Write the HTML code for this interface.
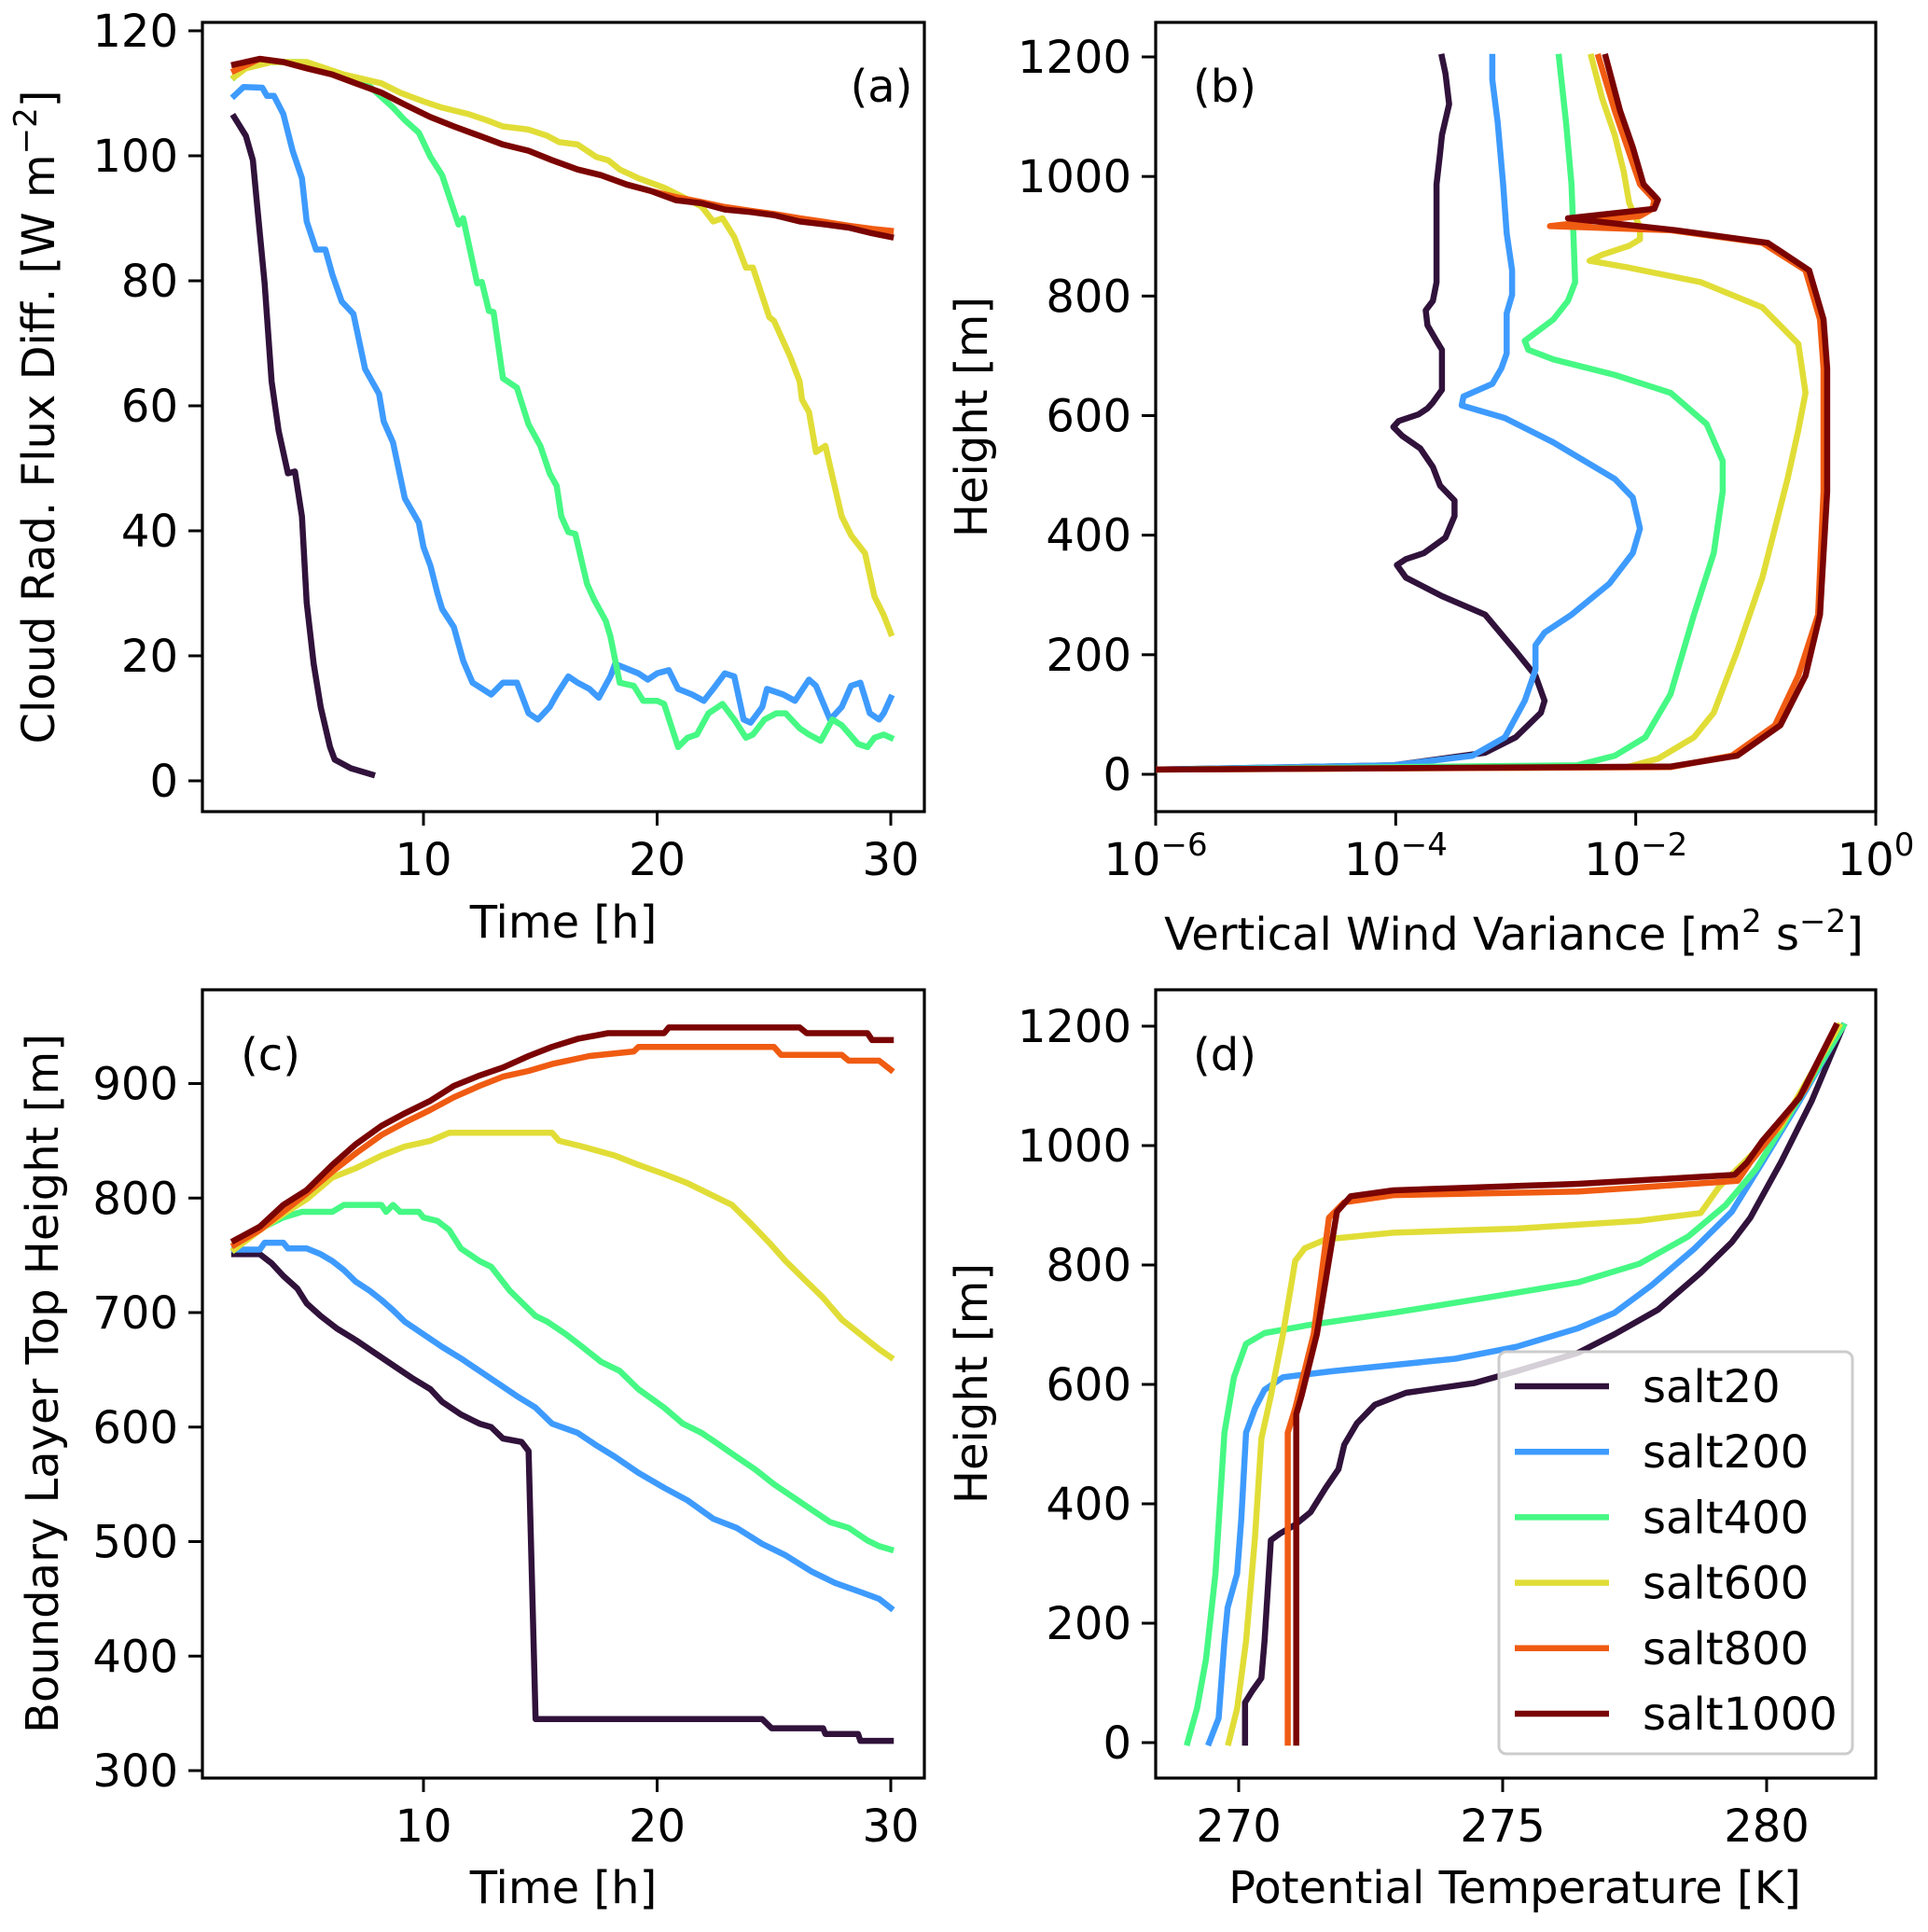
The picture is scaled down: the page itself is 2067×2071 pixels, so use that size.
<!DOCTYPE html>
<html><head><meta charset="utf-8"><style>
html,body{margin:0;padding:0;background:#fff}
svg{display:block}
text{font-family:"DejaVu Sans","Liberation Sans",sans-serif;fill:#000}
</style></head><body>
<svg id="fig" width="2067" height="2071" viewBox="0 0 2067 2071" xmlns="http://www.w3.org/2000/svg"></svg>
<script>
// ---------- shared ----------
const seriesNames = ["salt20","salt200","salt400","salt600","salt800","salt1000"];
const seriesColors = ["#30123b","#3e9bfe","#46f884","#e1dd37","#f05b12","#7a0403"];

// ---------- panel (a) data: time [h], flux diff ----------
const aT20 = [1.9,2.4,2.7,2.9,3.2,3.5,3.8,4.2,4.5,4.8,5.0,5.3,5.6,6.0,6.2,6.9,7.8];
const aV20 = [106.2,103.2,99.3,91.4,79.6,63.9,56,49.2,49.5,42.3,28.5,18.7,11.8,5.4,3.4,2,1];
const aT200 = [1.9,2.3,3.1,3.3,3.6,4.0,4.4,4.8,5.0,5.4,5.8,6.1,6.5,7.0,7.5,8.1,8.3,8.7,9.2,9.8,10.0,10.3,10.6,10.8,11.3,11.7,12.1,12.9,13.4,14.0,14.5,14.9,15.4,15.7,16.2,16.6,17.1,17.5,18.0,18.2,19.2,19.6,20.0,20.5,20.9,21.5,22.0,22.4,22.9,23.3,23.7,24.0,24.5,24.7,25.4,25.9,26.5,26.8,27.4,27.9,28.3,28.7,29.1,29.5,29.7,30.0];
const aV200 = [109.6,111,110.9,109.6,109.6,106.7,100.8,96.4,89.5,85,85,81,76.7,74.7,65.9,61.9,57.5,54.1,45.2,41.3,37.4,34.4,30,27.5,24.6,19.2,15.7,13.8,15.7,15.7,10.8,9.8,11.8,13.8,16.7,15.7,14.7,13.3,16.7,18.7,17.2,16.2,17.2,17.7,14.7,13.8,12.8,14.7,17.2,16.7,9.8,9.3,11.8,14.7,13.8,12.8,16.2,15.2,9.8,11.8,15.2,15.7,10.8,9.8,10.8,13.3];
const aT400 = [1.9,2.4,3.2,4.8,6.6,7.7,8.7,9.2,9.8,10.3,10.8,11.5,11.7,12.3,12.5,12.8,13.0,13.4,14.0,14.5,15.0,15.4,15.7,15.9,16.2,16.5,17.0,17.3,17.8,18.0,18.4,19.0,19.4,20.0,20.3,20.9,21.3,21.7,22.2,22.8,23.3,23.8,24.1,24.6,25.1,25.5,26.1,26.5,27.0,27.5,27.9,28.6,29.0,29.3,29.7,30.0];
const aV400 = [112.6,114.6,115,115,112.6,111.1,107.7,105.7,103.7,99.8,96.9,89,90,79.6,79.8,75.2,75,64.4,62.9,57,53.6,49.2,47.2,42.3,39.8,39.5,31.5,29,25.6,23.1,15.7,15.2,12.8,12.8,12.3,5.4,6.9,7.4,10.8,12.3,9.8,6.9,7.4,9.8,10.8,10.8,8.4,7.4,6.4,9.8,8.9,5.9,5.4,6.9,7.4,6.9];
const aT600 = [1.9,2.4,3.5,5.0,6.6,8.2,9.0,10.0,10.8,11.9,12.7,13.4,14.5,15.3,15.8,16.6,17.4,17.9,18.4,19.2,20.3,21.1,21.9,22.4,22.8,23.3,23.8,24.1,24.8,25.0,25.7,26.1,26.2,26.5,26.8,27.2,27.5,27.9,28.3,28.9,29.3,29.7,30.0];
const aV600 = [112.6,114,115,115,113,111.6,110.1,108.7,107.7,106.7,105.7,104.7,104.2,103.2,102.2,101.8,99.8,99.3,97.8,96.4,94.9,93.4,91.9,89.5,90,87,82.1,82.1,74.2,73.6,67.8,63.9,61,59,52.6,53.6,48.7,42.3,39.3,36.4,29.5,26.5,23.6];
const aT800 = [1.9,3.0,4.0,5.0,6.1,7.1,8.2,9.2,10.3,11.3,12.4,13.4,14.5,15.5,16.6,17.6,18.7,19.7,20.8,21.9,22.9,24.0,25.0,26.1,27.2,28.2,29.2,30.0];
const aV800 = [113.6,115.5,115,114,113,111.6,110.1,108.2,106.2,104.7,103.2,101.8,100.8,99.3,97.8,96.9,95.4,94.4,93.4,92.6,91.8,91.2,90.7,90,89.4,88.8,88.3,88];
const aT1000 = [1.9,3.0,4.0,5.0,6.1,7.1,8.2,9.2,10.3,11.3,12.4,13.4,14.5,15.5,16.6,17.6,18.7,19.7,20.8,21.9,22.9,24.0,25.0,26.1,27.2,28.2,29.2,30.0];
const aV1000 = [114.6,115.5,115,114,113,111.6,110.1,108.2,106.2,104.7,103.2,101.8,100.8,99.3,97.8,96.9,95.4,94.4,92.9,92.4,91.4,91,90.5,89.5,89,88.5,87.6,87];

// ---------- panel (b) data: log10 variance, height ----------
const bX20 = [-6,-4.02,-3.255,-3.0,-2.79,-2.76,-2.835,-3.0,-3.255,-3.615,-3.915,-3.99,-3.915,-3.765,-3.585,-3.51,-3.51,-3.63,-3.69,-3.795,-3.945,-4.02,-3.975,-3.81,-3.735,-3.69,-3.615,-3.615,-3.66,-3.735,-3.75,-3.69,-3.66,-3.66,-3.66,-3.63,-3.615,-3.555,-3.585,-3.615];
const bH20 = [8,15,36,62,103,123,165,206,267,298,329,350,360,370,396,432,458,483,514,545,566,581,591,602,612,622,643,710,725,751,776,792,823,884,987,1039,1069,1121,1172,1200];
const bX200 = [-6,-4.02,-3.36,-3.09,-2.925,-2.835,-2.835,-2.76,-2.535,-2.22,-2.025,-1.965,-2.025,-2.175,-2.685,-3.09,-3.45,-3.435,-3.195,-3.12,-3.075,-3.075,-3.03,-3.03,-3.075,-3.105,-3.15,-3.195,-3.195];
const bH200 = [8,15,31,62,123,175,216,237,267,319,370,411,463,494,555,596,617,632,653,679,704,771,802,843,905,987,1090,1162,1200];
const bX400 = [-6,-2.49,-2.175,-1.92,-1.71,-1.515,-1.35,-1.275,-1.275,-1.41,-1.71,-2.175,-2.685,-2.895,-2.925,-2.685,-2.565,-2.505,-2.52,-2.535,-2.58,-2.64];
const bH400 = [8,15,31,62,134,267,370,473,524,586,638,668,694,710,725,761,792,823,905,987,1090,1200];
const bX600 = [-6,-2.07,-1.815,-1.515,-1.35,-1.155,-0.945,-0.735,-0.645,-0.585,-0.645,-0.945,-1.455,-2.07,-2.385,-2.28,-2.055,-1.965,-1.965,-2.055,-2.1,-2.175,-2.28,-2.37];
const bH600 = [8,12,26,62,103,206,329,494,576,638,720,781,823,848,859,869,884,895,915,956,1008,1069,1131,1200];
const bX800 = [-6,-1.71,-1.2,-0.84,-0.645,-0.48,-0.435,-0.435,-0.465,-0.585,-0.945,-1.71,-2.715,-1.965,-1.86,-1.845,-1.965,-2.07,-2.175,-2.31];
const bH800 = [8,12,31,82,165,267,473,679,761,843,889,910,917,934,946,961,987,1049,1110,1200];
const bX1000 = [-6,-1.71,-1.155,-0.795,-0.585,-0.465,-0.405,-0.405,-0.435,-0.555,-0.9,-1.665,-2.565,-1.845,-1.815,-1.935,-2.025,-2.13,-2.25];
const bH1000 = [8,13,31,82,165,267,473,679,761,843,889,910,930,946,961,987,1049,1110,1200];

// ---------- panel (c) data: time, BL top height ----------
const cT20 = [1.9,3.0,3.5,4.0,4.6,5.0,5.6,6.3,7.1,7.9,8.7,9.5,10.3,10.8,11.6,12.4,12.9,13.4,14.2,14.5,14.8,24.5,24.9,27.1,27.2,28.6,28.7,30.0];
const cV20 = [751,751,743,732,721,708,697,686,676,665,654,643,633,622,611,603,600,590,587,579,345,345,337,337,332,332,326,326];
const cT200 = [1.9,3.0,3.2,4.0,4.2,5.0,5.6,6.1,6.6,7.1,7.7,8.2,8.7,9.2,10.0,10.8,11.6,12.4,13.2,14.0,14.8,15.5,16.6,17.4,18.2,19.2,20.3,21.3,22.4,23.4,24.5,25.5,26.6,27.6,28.7,29.5,30.0];
const cV200 = [755,755,761,761,756,756,751,745,737,727,719,711,702,692,681,670,660,649,638,627,617,603,595,584,574,560,547,536,520,512,498,488,474,464,456,450,442];
const cT400 = [1.9,2.4,3.2,4.0,4.8,6.1,6.6,8.2,8.4,8.7,9.0,9.8,10.0,10.6,11.1,11.6,12.4,12.9,13.7,14.8,15.3,16.1,16.8,17.6,18.4,19.2,20.3,21.1,21.9,22.7,23.4,24.2,25.0,25.8,26.6,27.4,28.2,29.0,29.5,30.0];
const cV400 = [755,764,775,783,788,788,794,794,788,794,788,788,783,780,772,756,745,740,719,697,692,681,670,657,649,633,617,603,595,584,574,563,550,539,528,517,512,501,496,493];
const cT600 = [1.9,3.0,4.0,5.0,6.1,7.1,8.2,9.2,10.3,11.1,15.5,15.8,16.8,18.2,19.2,20.3,21.3,22.4,23.2,24.0,24.8,25.5,26.3,27.1,27.9,28.7,29.5,30.0];
const cV600 = [755,772,786,799,818,826,837,845,850,857,857,850,845,837,829,821,813,802,794,778,761,745,729,713,694,681,668,661];
const cT800 = [1.9,3.0,4.0,5.0,6.1,7.1,8.2,9.2,10.3,11.3,12.4,13.4,14.5,15.5,17.1,19.0,19.2,25.0,25.3,27.9,28.2,29.5,30.0];
const cV800 = [759,772,788,804,823,839,855,866,877,888,898,906,911,917,924,928,932,932,925,925,920,920,912];
const cT1000 = [1.9,3.0,4.0,5.0,6.1,7.1,8.2,9.2,10.3,11.3,12.4,13.4,14.5,15.5,16.6,17.9,20.3,20.5,26.1,26.4,29.0,29.2,30.0];
const cV1000 = [763,775,794,807,829,847,863,874,885,898,907,914,924,932,939,944,944,949,949,944,944,938,938];

// ---------- panel (d) data: potential temperature, height ----------
const dT20 = [270.12,270.12,270.26,270.43,270.49,270.61,270.78,271.07,271.36,271.65,271.89,272.0,272.24,272.58,273.17,274.45,275.26,276.43,277.12,277.94,278.75,279.34,279.69,280.27,280.85,281.45];
const dH20 = [0,67,87,108,170,339,350,365,386,427,458,499,535,566,586,602,622,653,684,725,787,838,879,972,1074,1200];
const dT200 = [269.44,269.62,269.73,269.79,269.97,270.05,270.14,270.31,270.49,270.84,271.77,274.10,275.26,276.43,277.12,277.82,278.64,279.34,279.92,280.62,281.45];
const dH200 = [0,41,170,226,283,375,519,560,591,612,622,643,663,694,720,766,828,889,972,1074,1200];
const dT400 = [269.03,269.21,269.38,269.56,269.73,269.91,270.14,270.49,271.30,272.93,274.68,276.43,277.59,278.52,279.22,279.80,280.38,281.45];
const dH400 = [0,57,139,283,519,612,668,686,699,720,745,771,802,848,900,961,1044,1200];
const dT600 = [269.81,269.97,270.14,270.31,270.43,270.61,270.84,271.07,271.25,271.65,272.93,275.26,277.59,278.75,279.10,279.69,280.27,281.37];
const dH600 = [0,57,170,344,509,581,684,807,828,843,854,861,874,887,931,982,1033,1200];
const dT800 = [270.93,270.93,271.07,271.42,271.71,272.0,272.93,276.43,279.45,279.69,280.15,280.73,281.31];
const dH800 = [0,519,560,684,879,905,917,923,941,972,1023,1095,1200];
const dT1000 = [271.09,271.09,271.19,271.48,271.86,272.12,272.93,276.43,279.39,279.63,279.92,280.62,281.31];
const dH1000 = [0,550,581,684,889,915,925,936,951,972,1008,1080,1200];

// tick labels
const aYTicks = [0,20,40,60,80,100,120];
const timeTicks = [10,20,30];
const bYTicks = [0,200,400,600,800,1000,1200];
const bXTicks = [-6,-4,-2,0];
const cYTicks = [300,400,500,600,700,800,900];
const dXTicks = [270,275,280];

const NS = "http://www.w3.org/2000/svg";
const svg = document.getElementById("fig");
const FS = 48;
function mk(tag, attrs, parent){
  const e = document.createElementNS(NS, tag);
  for (const k in attrs) e.setAttribute(k, attrs[k]);
  (parent||svg).appendChild(e);
  return e;
}
function linScale(d0,d1,r0,r1){ return v => r0 + (v-d0)*(r1-r0)/(d1-d0); }

// axis functions
const axA = {x: linScale(10,30,454,955), y: linScale(0,120,837,33), box:[217,24,991,870]};
const axB = {x: linScale(-6,0,1239,2011), y: linScale(0,1200,830,61), box:[1239,24,2011,870]};
const axC = {x: linScale(10,30,454,955), y: linScale(300,900,1898,1161.5), box:[217,1061,991,1906]};
const axD = {x: linScale(270,280,1328,1894), y: linScale(0,1200,1868,1100), box:[1239,1061,2011,1906]};

function drawFrame(ax, name){
  const [x0,y0,x1,y1] = ax.box;
  const r = mk("rect",{x:x0,y:y0,width:x1-x0,height:y1-y0,fill:"none",stroke:"#000","stroke-width":3.2});
  
  
}
function drawSeries(ax, xs, ys, idx, panel){
  const g = mk("clipPath",{id:"clip"+panel+idx});
  const [x0,y0,x1,y1] = ax.box;
  mk("rect",{x:x0,y:y0,width:x1-x0,height:y1-y0},g);
  const pts = xs.map((v,i)=> ax.x(v).toFixed(1)+","+ax.y(ys[i]).toFixed(1)).join(" ");
  const p = mk("polyline",{points:pts,fill:"none",stroke:seriesColors[idx],"stroke-width":6.5,"stroke-linejoin":"round","stroke-linecap":"square","clip-path":"url(#clip"+panel+idx+")"});
  
  
}
function yTicks(ax, ticks, name){
  const x0 = ax.box[0];
  ticks.forEach(t=>{
    const y = ax.y(t);
    const l = mk("line",{x1:x0-15,x2:x0,y1:y,y2:y,stroke:"#000","stroke-width":3});
    
    
    const tx = mk("text",{x:x0-26,y:y+17,"text-anchor":"end","font-size":FS});
    tx.textContent = t;
    
    
  });
}
function xTicks(ax, ticks, name, fmt){
  const y1 = ax.box[3];
  ticks.forEach(t=>{
    const x = ax.x(t);
    const l = mk("line",{x1:x,x2:x,y1:y1,y2:y1+15,stroke:"#000","stroke-width":3});
    
    
    const tx = mk("text",{x:x,y:y1+68,"text-anchor":"middle","font-size":FS});
    if (fmt) { tx.innerHTML = fmt(t); } else { tx.textContent = t; }
    
    
  });
}
function label(x,y,txt,name,rot){
  const t = mk("text",{x:x,y:y,"text-anchor":"middle","font-size":FS});
  if (rot) t.setAttribute("transform","rotate(-90 "+x+" "+y+")");
  t.innerHTML = txt;
  
  
}

// panel a
drawFrame(axA,"panel-a");
yTicks(axA,aYTicks,"panel-a"); xTicks(axA,timeTicks,"panel-a");
[[aT20,aV20],[aT200,aV200],[aT400,aV400],[aT600,aV600],[aT800,aV800],[aT1000,aV1000]].forEach((s,i)=>drawSeries(axA,s[0],s[1],i,"a"));
label(604,1005,"Time [h]","panel-a-x-axis-title");
label(58,447,'Cloud Rad. Flux Diff. [W m<tspan dy="-19" font-size="34">−2</tspan><tspan dy="19">]</tspan>',"panel-a-y-axis-title",true);
label(945,109,"(a)","panel-a-label");

// panel b
drawFrame(axB,"panel-b");
yTicks(axB,bYTicks,"panel-b");
xTicks(axB,bXTicks,"panel-b", t=>'10<tspan dy="-21" font-size="34">'+(t<0?'−'+(-t):t)+'</tspan>');
[[bX20,bH20],[bX200,bH200],[bX400,bH400],[bX600,bH600],[bX800,bH800],[bX1000,bH1000]].forEach((s,i)=>drawSeries(axB,s[0],s[1],i,"b"));
label(1623,1018,'Vertical Wind Variance [m<tspan dy="-19" font-size="34">2</tspan><tspan dy="19"> s</tspan><tspan dy="-19" font-size="34">−2</tspan><tspan dy="19">]</tspan>',"panel-b-x-axis-title");
label(1058,447,"Height [m]","panel-b-y-axis-title",true);
label(1313,109,"(b)","panel-b-label");

// panel c
drawFrame(axC,"panel-c");
yTicks(axC,cYTicks,"panel-c"); xTicks(axC,timeTicks,"panel-c");
[[cT20,cV20],[cT200,cV200],[cT400,cV400],[cT600,cV600],[cT800,cV800],[cT1000,cV1000]].forEach((s,i)=>drawSeries(axC,s[0],s[1],i,"c"));
label(604,2040,"Time [h]","panel-c-x-axis-title");
label(62,1483,"Boundary Layer Top Height [m]","panel-c-y-axis-title",true);
label(290,1147,"(c)","panel-c-label");

// panel d
drawFrame(axD,"panel-d");
yTicks(axD,bYTicks,"panel-d"); xTicks(axD,dXTicks,"panel-d");
[[dT20,dH20],[dT200,dH200],[dT400,dH400],[dT600,dH600],[dT800,dH800],[dT1000,dH1000]].forEach((s,i)=>drawSeries(axD,s[0],s[1],i,"d"));
label(1624,2040,"Potential Temperature [K]","panel-d-x-axis-title");
label(1058,1483,"Height [m]","panel-d-y-axis-title",true);
label(1313,1147,"(d)","panel-d-label");

// legend
const lg = mk("g",{});


mk("rect",{x:1607,y:1449,width:379,height:431,rx:8,fill:"rgba(255,255,255,0.8)",stroke:"#cccccc","stroke-width":3},lg);
seriesNames.forEach((n,i)=>{
  const y = 1486 + i*70.2;
  const l = mk("line",{x1:1624,x2:1725,y1:y,y2:y,stroke:seriesColors[i],"stroke-width":6.5},lg);
  
  
  const t = mk("text",{x:1761,y:y+17,"font-size":FS},lg);
  t.textContent = n;
  
  
});
</script>
</body></html>
